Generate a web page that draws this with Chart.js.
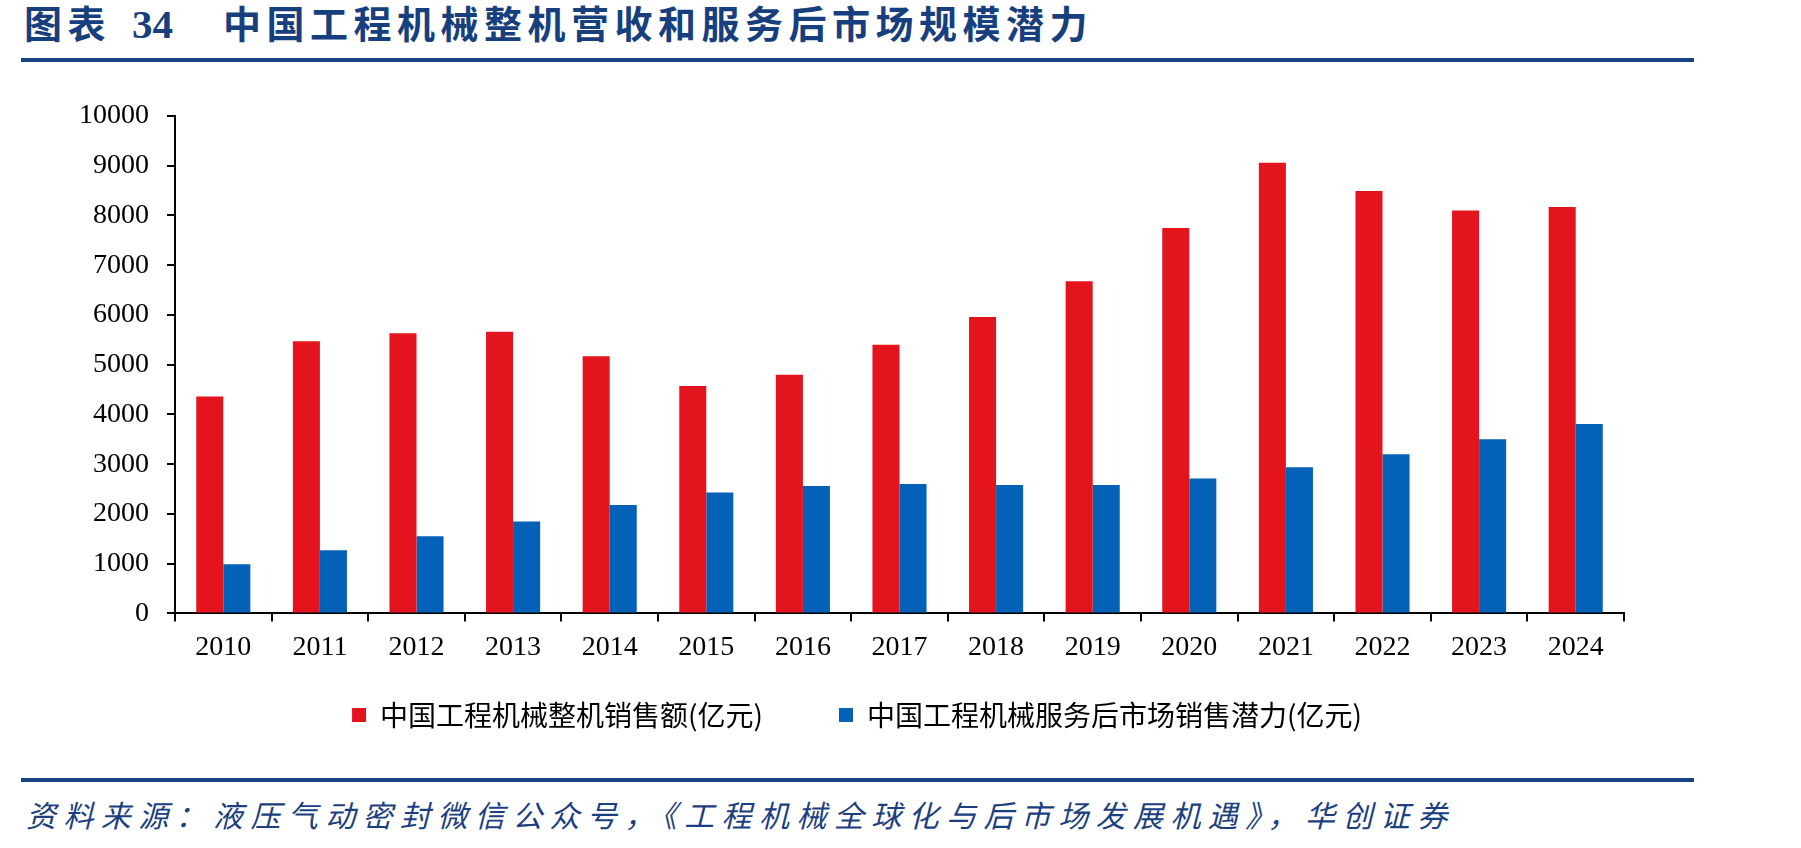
<!DOCTYPE html>
<html lang="zh-CN">
<head>
<meta charset="UTF-8">
<title>中国工程机械整机营收和服务后市场规模潜力</title>
<script src="https://cdn.jsdelivr.net/npm/chart.js"></script>
<style>
    html, body { margin: 0; padding: 0; background: #fff; }
    body { width: 1801px; height: 848px; position: relative; overflow: hidden; }
    .title { position: absolute; left: 24px; top: -6px; font-family: 'Noto Sans CJK SC', sans-serif; font-weight: bold; font-size: 38px; color: #173f7e; letter-spacing: 5.5px; white-space: nowrap; }
    .title .num { font-family: 'Liberation Serif', serif; font-size: 41px; letter-spacing: 0; margin: 0 50px 0 21px; }
    .rule { position: absolute; left: 21px; width: 1673px; height: 4px; background: #1a4386; }
    .source { position: absolute; left: 26px; top: 792px; font-family: 'Noto Sans CJK SC', sans-serif; font-style: italic; font-size: 30px; color: #1c3f7f; letter-spacing: 7.4px; white-space: nowrap; }
    .chart-box { position: absolute; left: 0; top: 70px; width: 1801px; height: 717px; }
</style>
</head>
<body>
<div class="title">图表<span class="num">34</span>中国工程机械整机营收和服务后市场规模潜力</div>
<div class="chart-box"><canvas id="salesChart"></canvas></div>
<div class="rule" style="top:58px"></div>
<div class="rule" style="top:778px"></div>
<div class="source">资料来源：液压气动密封微信公众号，《工程机械全球化与后市场发展机遇》，华创证券</div>

<script>
// 年份
const years = ['2010', '2011', '2012', '2013', '2014', '2015', '2016', '2017', '2018', '2019', '2020', '2021', '2022', '2023', '2024'];
// 整机销售额 (亿元)
const machineSales = [4360, 5470, 5630, 5660, 5170, 4570, 4800, 5400, 5960, 6680, 7750, 9060, 8490, 8100, 8170];
// 服务后市场销售潜力 (亿元)
const afterMarket = [990, 1270, 1550, 1850, 2180, 2430, 2560, 2600, 2580, 2580, 2710, 2940, 3200, 3500, 3810];
const yTicks = [0, 1000, 2000, 3000, 4000, 5000, 6000, 7000, 8000, 9000, 10000];

const serif = 'Liberation Serif';
const cjk = 'Noto Sans CJK SC';

// 图例贴近横轴标签：布局完成后上移并略右移
const legendShift = {
    id: 'legendShift',
    afterLayout(chart) {
        const lg = chart.legend;
        if (!lg) return;
        lg.top -= 48; lg.bottom -= 48;
        lg.left += 10; lg.right += 10;
    }
};

new Chart(document.getElementById('salesChart'), {
    type: 'bar',
    data: {
        labels: years,
        datasets: [
            { label: '中国工程机械整机销售额(亿元)', data: machineSales, backgroundColor: '#e3141e', borderWidth: 0 },
            { label: '中国工程机械服务后市场销售潜力(亿元)', data: afterMarket, backgroundColor: '#0461b8', borderWidth: 0 }
        ]
    },
    plugins: [legendShift],
    options: {
        responsive: true,
        maintainAspectRatio: false,
        animation: false,
        datasets: { bar: { categoryPercentage: 0.56, barPercentage: 1.0 } },
        layout: { padding: { left: 70, right: 177, top: 46, bottom: 0 } },
        plugins: {
            legend: {
                position: 'bottom',
                labels: { boxWidth: 14, boxHeight: 14, padding: 76, color: '#000', font: { family: cjk, size: 28 } }
            },
            tooltip: { enabled: false }
        },
        scales: {
            x: {
                grid: { display: true, drawOnChartArea: false, color: '#000', tickLength: 8, lineWidth: 2, offset: true },
                border: { color: '#000', width: 2 },
                ticks: { color: '#000', padding: 9, maxRotation: 0, autoSkip: false, font: { family: serif, size: 28 } }
            },
            y: {
                min: 0, max: 10000,
                afterBuildTicks: (scale) => { scale.ticks = yTicks.map(v => ({ value: v })); },
                grid: { display: true, drawOnChartArea: false, color: '#000', tickLength: 8, lineWidth: 2 },
                border: { color: '#000', width: 2 },
                ticks: { color: '#000', padding: 18, font: { family: serif, size: 28 }, callback: (v) => String(v) },
                afterFit: (scale) => { scale.width = 105; }
            }
        }
    }
});
</script>
</body>
</html>
